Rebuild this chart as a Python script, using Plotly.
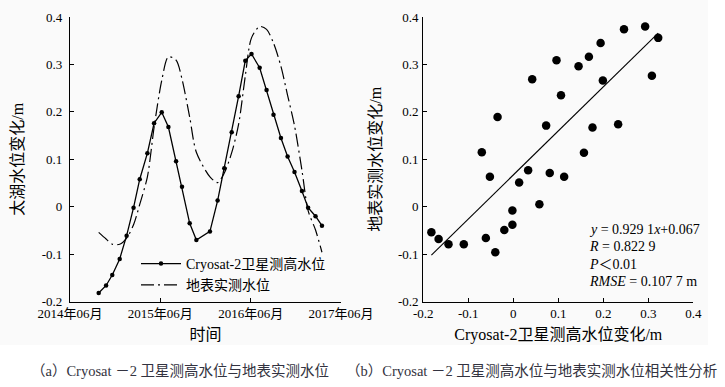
import plotly.graph_objects as go

# ---------------- data ----------------
dates = ["2014-09-25", "2014-10-25", "2014-11-19", "2014-12-19", "2015-01-16",
         "2015-02-13", "2015-03-10", "2015-04-10", "2015-05-07", "2015-06-07",
         "2015-07-04", "2015-08-04", "2015-08-28", "2015-09-28", "2015-10-25",
         "2015-12-19", "2016-01-19", "2016-02-15", "2016-03-16", "2016-04-13",
         "2016-05-10", "2016-06-04", "2016-07-07", "2016-08-04", "2016-09-01",
         "2016-10-01", "2016-10-28", "2016-11-25", "2016-12-25", "2017-01-19",
         "2017-02-18", "2017-03-16"]
cryosat = [-0.182, -0.166, -0.144, -0.110, -0.061, -0.002, 0.058, 0.113, 0.176, 0.199,
           0.168, 0.096, 0.042, -0.035, -0.070, -0.052, 0.013, 0.081, 0.157, 0.233,
           0.308, 0.322, 0.293, 0.246, 0.194, 0.145, 0.106, 0.073, 0.033, -0.002,
           -0.020, -0.040]
ground = [-0.054, -0.068, -0.079, -0.079, -0.066, -0.038, 0.005, 0.063, 0.167, 0.266,
          0.316, 0.309, 0.269, 0.189, 0.115, 0.063, 0.051, 0.071, 0.114, 0.174,
          0.276, 0.356, 0.380, 0.374, 0.345, 0.296, 0.235, 0.171, 0.077, -0.008,
          -0.049, -0.096]

slope = 0.9291
intercept = 0.067

time_tickvals = ["2014-06-01", "2015-06-01", "2016-06-01", "2017-06-01"]
time_ticktext = ["2014年06月", "2015年06月", "2016年06月", "2017年06月"]
val_ticks = [-0.2, -0.1, 0, 0.1, 0.2, 0.3, 0.4]
val_ticktext = ["-0.2", "-0.1", "0", "0.1", "0.2", "0.3", "0.4"]

series_names = ["Cryosat-2卫星测高水位", "地表实测水位"]
xtitle_a = "时间"
ytitle_a = "太湖水位变化/m"
xtitle_b = "Cryosat-2卫星测高水位变化/m"
ytitle_b = "地表实测水位变化/m"
caption_a = "（a）Cryosat －2 卫星测高水位与地表实测水位"
caption_b = "（b）Cryosat －2 卫星测高水位与地表实测水位相关性分析"
stats_lines = ["<i>y</i> = 0.929 1<i>x</i>+0.067", "<i>R</i> = 0.822 9",
               "<i>P</i>＜0.01", "<i>RMSE</i> = 0.107 7 m"]

# ---------------- figure ----------------
SERIF = "'Times New Roman', 'Liberation Serif', 'Noto Sans CJK SC', serif"
W, H = 725, 387

fig = go.Figure()

fig.add_trace(go.Scatter(
    x=dates, y=cryosat, name=series_names[0], mode="lines+markers",
    line=dict(color="black", width=1.3), marker=dict(color="black", size=4.5),
    xaxis="x", yaxis="y"))
fig.add_trace(go.Scatter(
    x=dates, y=ground, name=series_names[1], mode="lines",
    line=dict(color="black", width=1.2, dash="13px,4px,2px,4px", shape="spline", smoothing=0.8),
    xaxis="x", yaxis="y"))

fig.add_trace(go.Scatter(
    x=cryosat, y=ground, mode="markers", showlegend=False,
    marker=dict(color="black", size=8.5), xaxis="x2", yaxis="y2"))
xfit = [min(cryosat), max(cryosat)]
fig.add_trace(go.Scatter(
    x=xfit, y=[slope * v + intercept for v in xfit], mode="lines", showlegend=False,
    line=dict(color="black", width=1.1), xaxis="x2", yaxis="y2"))

ydom = [1 - 301.6 / H, 1 - 17 / H]


def axis_common(standoff):
    return dict(showline=True, linecolor="black", linewidth=1.2, ticks="inside",
                ticklen=4, tickcolor="black", tickwidth=1, showgrid=False,
                zeroline=False, mirror=False, ticklabelstandoff=standoff,
                automargin=False,
                tickfont=dict(family=SERIF, size=13, color="black"))


fig.update_layout(
    width=W, height=H,
    margin=dict(l=0, r=0, t=0, b=0, autoexpand=False),
    paper_bgcolor="white", plot_bgcolor="rgba(0,0,0,0)",
    font=dict(family=SERIF, size=13, color="black"),
    xaxis=dict(domain=[70 / W, 341 / W], type="date",
               range=["2014-06-01", "2017-06-01"],
               tickvals=time_tickvals, ticktext=time_ticktext,
               title=dict(text=xtitle_a, font=dict(family=SERIF, size=16), standoff=8),
               anchor="y", **axis_common(0)),
    yaxis=dict(domain=ydom, range=[-0.2, 0.4], tickvals=val_ticks, ticktext=val_ticktext,
               title=dict(text=ytitle_a, font=dict(family=SERIF, size=16), standoff=14),
               anchor="x", **axis_common(4)),
    xaxis2=dict(domain=[423.3 / W, 693.3 / W], range=[-0.2, 0.4],
                tickvals=val_ticks, ticktext=val_ticktext,
                title=dict(text=xtitle_b, font=dict(family=SERIF, size=16), standoff=8),
                anchor="y2", **axis_common(0)),
    yaxis2=dict(domain=ydom, range=[-0.2, 0.4], tickvals=val_ticks, ticktext=val_ticktext,
                title=dict(text=ytitle_b, font=dict(family=SERIF, size=16), standoff=12),
                anchor="x2", **axis_common(1)),
    legend=dict(x=136 / W, y=1 - 248 / H, xanchor="left", yanchor="top",
                bgcolor="rgba(0,0,0,0)", font=dict(family=SERIF, size=14),
                tracegroupgap=0, itemwidth=40),
    showlegend=True,
)

# light background of the chart area
fig.add_shape(type="rect", xref="paper", yref="paper", x0=0, x1=708 / W,
              y0=1 - 345 / H, y1=1, fillcolor="#fafafa", line=dict(width=0), layer="below")

# statistics text
for i, t in enumerate(stats_lines):
    fig.add_annotation(xref="paper", yref="paper", x=587 / W, y=1 - (229 + 17.5 * i) / H,
                       text=t, showarrow=False, xanchor="left", yanchor="middle",
                       font=dict(family=SERIF, size=14, color="black"))

# captions
CAP_FONT = dict(family=SERIF, size=14.5, color="#333340")
fig.add_annotation(xref="paper", yref="paper", x=180 / W, y=1 - 371 / H, text=caption_a,
                   showarrow=False, xanchor="center", yanchor="middle", font=CAP_FONT)
fig.add_annotation(xref="paper", yref="paper", x=531 / W, y=1 - 371 / H, text=caption_b,
                   showarrow=False, xanchor="center", yanchor="middle", font=CAP_FONT)

fig.write_html("out.html", config={"displayModeBar": False},
               post_script="document.body.style.margin='0';document.body.style.overflow='hidden';")
